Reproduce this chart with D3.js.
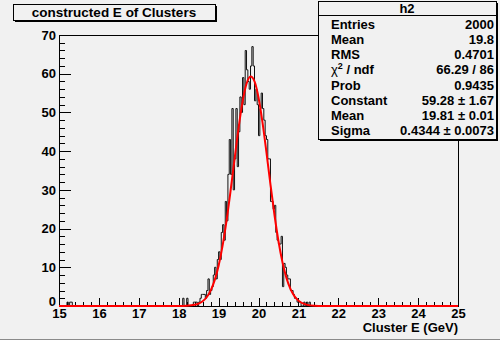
<!DOCTYPE html>
<html>
<head>
<meta charset="utf-8">
<script src="https://cdn.jsdelivr.net/npm/d3@7"></script>
<style>
  body { margin: 0; background: #ffffff; }
  svg text { font-family: "Liberation Sans", Arial, sans-serif; font-weight: bold; fill: #000; }
</style>
</head>
<body>
<div id="chart"></div>
<script>
// histogram: 300 bins of 1/30 GeV between 15 and 25
var xRange = [15, 25];
var yRange = [0, 70];
var nBins = 300;

// counts, starting at bin edge 18.0 GeV
var peakStart = 18.0;
var peakCounts = [0, 0, 0, 2, 0, 0, 2, 0, 0, 0,
    0, 1, 1, 1, 0, 1, 2, 3, 3, 3,
    2, 4, 7, 3, 4, 5, 8, 10, 7, 12,
    14, 12, 19, 21, 17, 27, 22, 34, 43, 34,
    51, 30, 38, 51, 36, 45, 54, 50, 59, 52,
    66, 61, 58, 56, 62, 67, 62, 53, 56, 52,
    44, 51, 55, 51, 48, 44, 43, 38, 38, 27,
    27, 25, 26, 19, 17, 16, 16, 18, 5, 11,
    10, 8, 7, 7, 4, 4, 3, 2, 2, 1,
    1, 1, 0, 0, 1, 0, 1, 0, 1, 0];

// a few stray entries at the low end
var tailEdges = [15.2, 15.2667, 15.3];
var tailCounts = [1, 1, 1];

// fit curve (gaus)
var fitX = [15, 18.0, 18.2, 18.4, 18.5, 18.6, 18.7, 18.8, 18.9, 19.0, 19.1, 19.2, 19.3, 19.4, 19.5, 19.6, 19.7, 19.8,
    19.9, 20.0, 20.1, 20.2, 20.3, 20.4, 20.5, 20.6, 20.7, 20.8, 20.9, 21.0, 21.2, 21.4, 21.6, 25];
var fitY = [0, 0.01, 0.06, 0.31, 0.63, 1.23, 2.26, 3.97, 6.61, 10.42, 15.6, 22.12, 29.77, 37.97, 45.95, 52.74, 57.41, 59.27,
    58.02, 53.87, 47.44, 39.62, 31.38, 23.57, 16.79, 11.34, 7.27, 4.42, 2.55, 1.39, 0.35, 0.07, 0.01, 0];

var xTicks = [15, 16, 17, 18, 19, 20, 21, 22, 23, 24, 25];
var yTicks = [0, 10, 20, 30, 40, 50, 60, 70];

var statLabels = ["Entries", "Mean", "RMS", "chi2", "Prob", "Constant", "Mean", "Sigma"];
var statValues = ["2000", "19.8", "0.4701", "66.29 / 86", "0.9435", "59.28 \u00b1 1.67", "19.81 \u00b1 0.01", "0.4344 \u00b1 0.0073"];

var titleText = "constructed E of Clusters";
var xTitle = "Cluster E (GeV)";
var histName = "h2";

var size = { width: 500, height: 343 };
var frame = { left: 59, right: 458, top: 35, bottom: 306 };
var bgColor = "#f1f1f1";

var svg = d3.select("#chart").append("svg")
    .attr("width", size.width)
    .attr("height", size.height);

// canvas background and its lower border
svg.append("rect").attr("width", size.width).attr("height", 340).attr("fill", bgColor);
svg.append("line").attr("x1", 0).attr("x2", size.width).attr("y1", 339.5).attr("y2", 339.5)
    .attr("stroke", "#8a8a8a");

var x = d3.scaleLinear().domain(xRange).range([frame.left, frame.right]);
var y = d3.scaleLinear().domain(yRange).range([frame.bottom, frame.top]);

// build the full bin list
var binWidth = (xRange[1] - xRange[0]) / nBins;
var counts = new Array(nBins).fill(0);
var k0 = Math.round((peakStart - xRange[0]) / binWidth);
peakCounts.forEach((c, i) => { counts[k0 + i] = c; });
tailEdges.forEach((e, i) => { counts[Math.round((e - xRange[0]) / binWidth)] = tailCounts[i]; });
var steps = counts.map((c, i) => [xRange[0] + i * binWidth, c]);
steps.push([xRange[1], counts[nBins - 1]]);

// axes: minor ticks first, then major ticks with labels
var xMinor = d3.axisBottom(x).tickValues(d3.range(15, 25.001, 0.2)).tickSize(-4).tickFormat("");
var xMajor = d3.axisBottom(x).tickValues(xTicks).tickSize(-8).tickPadding(3).tickFormat(d3.format("d"));
var yMinor = d3.axisLeft(y).tickValues(d3.range(0, 70.001, 2)).tickSize(-6).tickFormat("");
var yMajor = d3.axisLeft(y).tickValues(yTicks).tickSize(-12).tickPadding(3).tickFormat(d3.format("d"));

[xMinor, xMajor].forEach(ax => {
    svg.append("g").attr("transform", "translate(0," + frame.bottom + ")").call(ax)
        .call(g => g.select(".domain").remove())
        .call(g => g.selectAll("line").attr("stroke", "#000").attr("shape-rendering", "crispEdges"))
        .call(g => g.selectAll("text").attr("font-size", 13).attr("font-family", null));
});
[yMinor, yMajor].forEach(ax => {
    svg.append("g").attr("transform", "translate(" + frame.left + ",0)").call(ax)
        .call(g => g.select(".domain").remove())
        .call(g => g.selectAll("line").attr("stroke", "#000").attr("shape-rendering", "crispEdges"))
        .call(g => g.selectAll("text").attr("font-size", 13).attr("font-family", null))
        // the zero label sits just above the x labels
        .call(g => g.selectAll(".tick").filter(d => d === 0).select("text").attr("dy", "-0.05em"));
});

// frame
svg.append("rect")
    .attr("x", frame.left + 0.5).attr("y", frame.top + 0.5)
    .attr("width", frame.right - frame.left).attr("height", frame.bottom - frame.top)
    .attr("fill", "none").attr("stroke", "#000");

// histogram outline
var stepLine = d3.line()
    .x(d => x(d[0]))
    .y(d => y(d[1]))
    .curve(d3.curveStepAfter);
svg.append("path")
    .datum(steps)
    .attr("d", stepLine)
    .attr("fill", "none")
    .attr("stroke", "#111")
    .attr("stroke-width", 1);

// fit function
var fitLine = d3.line()
    .x((d, i) => x(fitX[i]))
    .y(d => y(d))
    .curve(d3.curveMonotoneX);
svg.append("path")
    .datum(fitY)
    .attr("d", fitLine)
    .attr("fill", "none")
    .attr("stroke", "#ff0000")
    .attr("stroke-width", 2);

// x axis title
svg.append("text")
    .attr("x", frame.right).attr("y", 332)
    .attr("text-anchor", "end")
    .attr("font-size", 13)
    .text(xTitle);

// box with a drop shadow
function shadowBox(x0, y0, w, h) {
    svg.append("path")
        .attr("d", "M" + (x0 + 2) + "," + (y0 + h + 1) + "H" + (x0 + w + 1) + "V" + (y0 + 2))
        .attr("fill", "none").attr("stroke", "#000").attr("stroke-width", 2);
    svg.append("rect")
        .attr("x", x0 + 0.5).attr("y", y0 + 0.5).attr("width", w).attr("height", h)
        .attr("fill", bgColor).attr("stroke", "#000");
}

// title
shadowBox(13, 4, 202, 16);
svg.append("text")
    .attr("x", 114).attr("y", 17)
    .attr("text-anchor", "middle")
    .attr("font-size", 13.5)
    .text(titleText);

// statistics box
var stat = { x: 318, y: 1, w: 178, h: 138 };
shadowBox(stat.x, stat.y, stat.w, stat.h);
svg.append("line")
    .attr("x1", stat.x).attr("x2", stat.x + stat.w)
    .attr("y1", 15.5).attr("y2", 15.5).attr("stroke", "#000");
svg.append("text")
    .attr("x", stat.x + stat.w / 2).attr("y", 13)
    .attr("text-anchor", "middle").attr("font-size", 13)
    .text(histName);

var rowY = d3.scaleLinear().domain([0, statLabels.length - 1]).range([29, 135]);
var rows = svg.append("g").selectAll("g")
    .data(statLabels)
    .enter().append("g");

rows.append("text")
    .attr("x", 331)
    .attr("y", (d, i) => rowY(i))
    .attr("font-size", 13)
    .each(function (d) {
        var t = d3.select(this);
        if (d === "chi2") {
            t.append("tspan").attr("font-weight", "normal").text("\u03c7");
            t.append("tspan").attr("font-size", 9).attr("dy", -5).text("2");
            t.append("tspan").attr("dy", 5).text(" / ndf");
        } else {
            t.text(d);
        }
    });

rows.append("text")
    .attr("x", 494)
    .attr("y", (d, i) => rowY(i))
    .attr("text-anchor", "end")
    .attr("font-size", 13)
    .text((d, i) => statValues[i]);
</script>
</body>
</html>
